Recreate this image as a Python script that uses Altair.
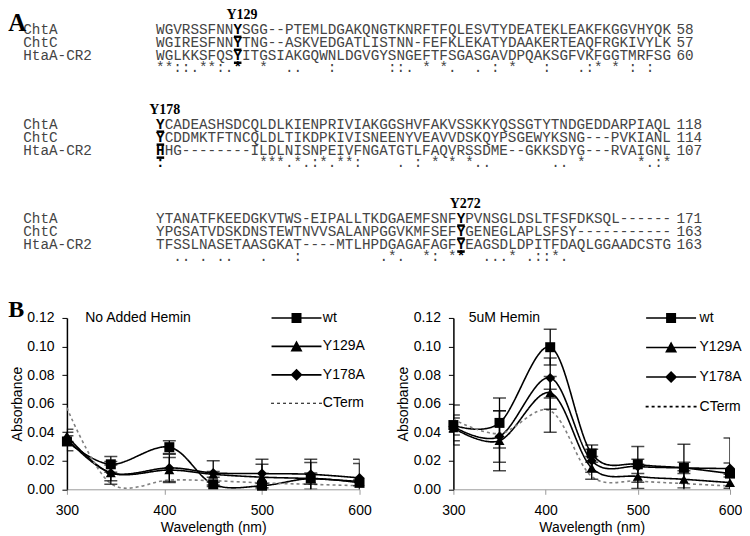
import altair as alt
import pandas as pd

# ===================== Panel A : sequence alignment =====================
seq_names = ["ChtA", "ChtC", "HtaA-CR2"]

block1_seqs = [
    "WGVRSSFNNYSGG--PTEMLDGAKQNGTKNRFTFQLESVTYDEATEKLEAKFKGGVHYQK",
    "WGIRESFNNYTNG--ASKVEDGATLISTNN-FEFKLEKATYDAAKERTEAQFRGKIVYLK",
    "WGLKKSFQSYITGSIAKGQWNLDGVGYSNGEFTFSGASGAVDPQAKSGFVKFGGTMRFSG",
]
block1_cons = "**::.**:.*" "  *  ..   " ":      ::." " * *.  . :" " *   :   ." ":* * : :  "
block1_ends = [58, 57, 60]

block2_seqs = [
    "YCADEASHSDCQLDLKIENPRIVIAKGGSHVFAKVSSKKYQSSGTYTNDGEDDARPIAQL",
    "YCDDMKTFTNCQLDLTIKDPKIVISNEENYVEAVVDSKQYPSGEWYKSNG---PVKIANL",
    "HHG--------ILDLNISNPEIVFNGATGTLFAQVRSSDME--GKKSDYG---RVAIGNL",
]
block2_cons = ":" + " " * 11 + "***.*.:*.**:" + " " * 4 + ". : * * *.." + " " * 7 + ".. *" + " " * 6 + "*.:*"
block2_ends = [118, 114, 107]

block3_seqs = [
    "YTANATFKEEDGKVTWS-EIPALLTKDGAEMFSNFYPVNSGLDSLTFSFDKSQL------",
    "YPGSATVDSKDNSTEWTNVVSALANPGGVKMFSEFYGENEGLAPLSFSY-----------",
    "TFSSLNASETAASGKAT----MTLHPDGAGAFAGFYEAGSDLDPITFDAQLGGAADCSTG",
]
block3_cons = "  .. . .. " "  .   :   " "      .*. " " *: **  .." ".* .::*.  " + " " * 10
block3_ends = [171, 163, 163]

site_labels = ["Y129", "Y178", "Y272"]
site_columns = [9, 0, 35]

# ===================== Panel B : absorbance spectra =====================
series_names = ["wt", "Y129A", "Y178A", "CTerm"]

wl_nohemin = [300, 345, 405, 450, 500, 550, 600]
nohemin_wt = [0.0335, 0.0175, 0.0295, 0.0035, 0.0025, 0.0075, 0.0045]
nohemin_y129a = [0.0375, 0.0115, 0.0135, 0.0105, 0.0085, 0.0075, 0.0055]
nohemin_y178a = [0.0355, 0.0115, 0.0150, 0.0115, 0.0110, 0.0105, 0.0080]
nohemin_cterm = [0.0570, 0.0040, 0.0065, 0.0060, 0.0045, 0.0035, 0.0025]
nohemin_wt_err = [0.0065, 0.0055, 0.0045, 0.0015, 0.0015, 0.0040, 0.0020]
nohemin_y129a_err = [0.0045, 0.0080, 0.0088, 0.0020, 0.0090, 0.0112, 0.0125]
nohemin_y178a_err = [0.0020, 0.0055, 0.0095, 0.0085, 0.0100, 0.0105, 0.0130]
nohemin_cterm_err = [0, 0, 0, 0, 0, 0, 0]

wl_hemin = [300, 350, 405, 450, 500, 550, 600]
hemin_wt = [0.0450, 0.0465, 0.0995, 0.0250, 0.0175, 0.0150, 0.0110]
hemin_y129a = [0.0430, 0.0340, 0.0675, 0.0150, 0.0090, 0.0070, 0.0047]
hemin_y178a = [0.0440, 0.0370, 0.0780, 0.0200, 0.0160, 0.0150, 0.0145]
hemin_cterm = [0.0490, 0.0390, 0.0550, 0.0090, 0.0058, 0.0040, 0.0023]
hemin_wt_err = [0.0140, 0.0175, 0.0125, 0.0060, 0.0125, 0.0165, 0.0250]
hemin_y129a_err = [0.0090, 0.0210, 0.0115, 0.0080, 0.0085, 0.0060, 0.0040]
hemin_y178a_err = [0.0060, 0.0180, 0.0140, 0.0080, 0.0050, 0.0040, 0.0040]
hemin_cterm_err = [0, 0, 0.0150, 0, 0, 0, 0]

# ===================== styling / layout =====================
MONO = "Liberation Mono"
SANS = "Liberation Sans"
SERIF = "Liberation Serif"
SEQ_COLOR = "#444444"

CH = 8.6              # px per alignment column
MONO_SIZE = CH / 0.6  # monospace advance = 0.6 em
SEQ_X0 = 89.3         # px (relative to panel origin) where column 0 starts
PANEL_A_W = 640
PANEL_A_H = 286
NAME_COL = (-43.7 - SEQ_X0) / CH
NUM_COL = (610.3 - SEQ_X0) / CH
block_top = [7, 102, 196]
line_off = [0, 15, 28, 41, 53]

xdomA = [-SEQ_X0 / CH, (PANEL_A_W - SEQ_X0) / CH]


def AX(f):
    return alt.X(f + ":Q", scale=alt.Scale(domain=xdomA, nice=False, zero=False), axis=None)


def AY(f):
    return alt.Y(f + ":Q", scale=alt.Scale(domain=[0, PANEL_A_H], nice=False, zero=False, reverse=True),
                 axis=None)


def runs(s):
    """split a string into runs of non-space characters: (start, text)"""
    out, i = [], 0
    while i < len(s):
        if s[i] == " ":
            i += 1
            continue
        j = i
        while j < len(s) and s[j] != " ":
            j += 1
        out.append((i, s[i:j]))
        i = j
    return out


blocks = [(block1_seqs, block1_cons, block1_ends),
          (block2_seqs, block2_cons, block2_ends),
          (block3_seqs, block3_cons, block3_ends)]

plain_parts, bold_parts, unders, labels, nums, names = [], [], [], [], [], []
for b, (seqs, cons, ends) in enumerate(blocks):
    top = block_top[b]
    sc = site_columns[b]
    labels.append({"t": site_labels[b], "col": sc + 1.0, "y": top})
    lines_here = [(s, top + line_off[r + 1]) for r, s in enumerate(seqs)]
    for r, (s, y) in enumerate(lines_here):
        names.append({"t": seq_names[r], "col": NAME_COL, "y": y})
        nums.append({"t": str(ends[r]), "col": NUM_COL, "y": y})
        if sc > 0:
            plain_parts.append({"t": s[:sc], "col": 0, "y": y})
        bold_parts.append({"t": s[sc], "col": sc, "y": y})
        plain_parts.append({"t": s[sc + 1:], "col": sc + 1, "y": y})
        unders.append({"x1": sc + 0.06, "x2": sc + 0.94, "y": y + 6.5})
    ycons = top + line_off[4]
    for start, txt in runs(cons[:sc]):
        plain_parts.append({"t": txt, "col": start, "y": ycons})
    if cons[sc] != " ":
        bold_parts.append({"t": cons[sc], "col": sc, "y": ycons})
    for start, txt in runs(cons[sc + 1:]):
        plain_parts.append({"t": txt, "col": sc + 1 + start, "y": ycons})

plain = alt.Chart(pd.DataFrame(plain_parts)).mark_text(
    font=MONO, fontSize=MONO_SIZE, color=SEQ_COLOR, align="left", baseline="middle").encode(
    AX("col"), AY("y"), text="t:N")
bold = alt.Chart(pd.DataFrame(bold_parts)).mark_text(
    font=MONO, fontSize=MONO_SIZE, fontWeight="bold", color="black", align="left", baseline="middle").encode(
    AX("col"), AY("y"), text="t:N")
underline = alt.Chart(pd.DataFrame(unders)).mark_rule(color="black", strokeWidth=2.5).encode(
    AX("x1"), x2="x2:Q", y=AY("y"))
name_txt = alt.Chart(pd.DataFrame(names)).mark_text(
    font=MONO, fontSize=MONO_SIZE, color=SEQ_COLOR, align="left", baseline="middle").encode(
    AX("col"), AY("y"), text="t:N")
num_txt = alt.Chart(pd.DataFrame(nums)).mark_text(
    font=MONO, fontSize=MONO_SIZE, color=SEQ_COLOR, align="left", baseline="middle").encode(
    AX("col"), AY("y"), text="t:N")
site_txt = alt.Chart(pd.DataFrame(labels)).mark_text(
    font=SERIF, fontSize=14, fontWeight="bold", color="black", align="center", baseline="middle").encode(
    AX("col"), AY("y"), text="t:N")
letter_a = alt.Chart(pd.DataFrame({"t": ["A"]})).mark_text(
    font=SERIF, fontSize=25, fontWeight="bold", color="black", align="left", baseline="top").encode(
    x=alt.value(-58.7), y=alt.value(3), text="t:N")

panel_a = alt.layer(plain, bold, underline, name_txt, num_txt, site_txt, letter_a).properties(
    width=PANEL_A_W, height=PANEL_A_H)

# ---------- spectra ----------
x_axis = alt.Axis(values=[300, 400, 500, 600], title="Wavelength (nm)", grid=False, labelFlush=False,
                  domainColor="#9a9a9a", domainWidth=1, tickColor="#9a9a9a", tickSize=5,
                  labelFont=SANS, labelFontSize=14, labelColor="black", labelPadding=9,
                  titleFont=SANS, titleFontSize=14, titleFontWeight="normal", titleColor="black",
                  titlePadding=3)
y_axis = alt.Axis(values=[0, 0.02, 0.04, 0.06, 0.08, 0.10, 0.12], format=".2f", title="Absorbance",
                  grid=False, domainColor="black", domainWidth=1.5, tickColor="black", tickSize=5,
                  labelFont=SANS, labelFontSize=14, labelColor="black", labelPadding=8,
                  titleFont=SANS, titleFontSize=14, titleFontWeight="normal", titleColor="black",
                  titlePadding=2.5)


def BX():
    return alt.X("wl:Q", scale=alt.Scale(domain=[300, 600], nice=False, zero=False), axis=x_axis)


def BY(f):
    return alt.Y(f + ":Q", scale=alt.Scale(domain=[0, 0.12], nice=False, zero=False), axis=y_axis)


U = 14.0  # px per unit of the custom legend symbol (sqrt(784)/2)


def rect(x0, x1, h):
    return "M%.3f,%.3fH%.3fV%.3fH%.3fZ" % (x0 / U, -h / U, x1 / U, h / U, x0 / U)


line_rect = rect(-25, 25, 0.8)
path_wt = line_rect + rect(-5, 5, 5)
path_tri = line_rect + "M0,%.3fL%.3f,%.3fH%.3fZ" % (-6.0 / U, 6.0 / U, 5.0 / U, -6.0 / U)
path_dia = line_rect + "M0,%.3fL%.3f,0L0,%.3fL%.3f,0Z" % (-6.0 / U, 6.0 / U, 6.0 / U, -6.0 / U)


def dash_path(h):
    return "".join(rect(-25.5 + k * 6, -25.5 + k * 6 + 3, h) for k in range(9))


def spectrum_panel(wls, vals, errs, title_text, title_x, cterm_color, cterm_dash, dash_h, width,
                   leg_x, leg_rowpad, leg_offset, with_b):
    recs = []
    for s in series_names:
        for w, v, e in zip(wls, vals[s], errs[s]):
            recs.append({"series": s, "wl": w, "ab": v, "err": e, "lo": v - e, "hi": v + e})
    df = pd.DataFrame(recs)
    base = alt.Chart(df)

    lines = base.mark_line(interpolate="cardinal", strokeWidth=1.6, clip=True).encode(
        BX(), BY("ab"),
        color=alt.Color("series:N", scale=alt.Scale(domain=series_names,
                                                    range=["black", "black", "black", cterm_color]),
                        legend=None),
        strokeDash=alt.StrokeDash("series:N", scale=alt.Scale(domain=series_names,
                                                              range=[[1, 0], [1, 0], [1, 0], cterm_dash]),
                                  legend=None))
    eb = base.transform_filter("datum.err > 0")
    rules = eb.mark_rule(color="black", strokeWidth=1.3, clip=True).encode(BX(), BY("lo"), y2="hi:Q")
    cap_lo = eb.mark_tick(color="black", orient="horizontal", size=13, thickness=1.5, clip=True).encode(
        BX(), BY("lo"))
    cap_hi = eb.mark_tick(color="black", orient="horizontal", size=13, thickness=1.5, clip=True).encode(
        BX(), BY("hi"))
    points = base.transform_filter("datum.series != 'CTerm'").mark_point(
        filled=True, color="black", opacity=1, size=100).encode(
        BX(), BY("ab"),
        shape=alt.Shape("series:N", scale=alt.Scale(domain=series_names[:3],
                                                    range=["square", "triangle-up", "diamond"]),
                        legend=None))
    leg = alt.Legend(title=None, orient="none", legendX=leg_x, legendY=-14, symbolSize=784,
                     symbolStrokeWidth=0, symbolOpacity=1,
                     labelFont=SANS, labelFontSize=14, labelColor="black", labelOffset=leg_offset,
                     rowPadding=leg_rowpad, padding=0, labelLimit=200)
    legend_layer = base.transform_calculate(Series="datum.series").mark_point(
        filled=True, color="black", opacity=0, size=1).encode(
        BX(), BY("ab"),
        shape=alt.Shape("Series:N",
                        scale=alt.Scale(domain=series_names,
                                        range=[path_wt, path_tri, path_dia, dash_path(dash_h)]),
                        legend=leg))
    title_layer = alt.Chart(pd.DataFrame({"t": [title_text]})).mark_text(
        font=SANS, fontSize=14, color="black", align="left", baseline="middle").encode(
        x=alt.value(title_x), y=alt.value(0), text="t:N")
    layers = [lines, rules, cap_lo, cap_hi, points, legend_layer, title_layer]
    if with_b:
        b_layer = alt.Chart(pd.DataFrame({"t": ["B"]})).mark_text(
            font=SERIF, fontSize=24, fontWeight="bold", color="black", align="left", baseline="middle").encode(
            x=alt.value(-58.7), y=alt.value(-8), text="t:N")
        layers.append(b_layer)
    return alt.layer(*layers).resolve_scale(shape="independent").properties(width=width, height=171.6)


left = spectrum_panel(
    wl_nohemin,
    {"wt": nohemin_wt, "Y129A": nohemin_y129a, "Y178A": nohemin_y178a, "CTerm": nohemin_cterm},
    {"wt": nohemin_wt_err, "Y129A": nohemin_y129a_err, "Y178A": nohemin_y178a_err, "CTerm": nohemin_cterm_err},
    "No Added Hemin", 18.3, "#808080", [3, 3], 0.55, 293, 215.9, 7.5, 12.4, True)

right = spectrum_panel(
    wl_hemin,
    {"wt": hemin_wt, "Y129A": hemin_y129a, "Y178A": hemin_y178a, "CTerm": hemin_cterm},
    {"wt": hemin_wt_err, "Y129A": hemin_y129a_err, "Y178A": hemin_y178a_err, "CTerm": hemin_cterm_err},
    "5uM Hemin", 15.3, "black", [4, 3], 0.8, 277, 204.0, 8.6, 14.5, False)

row_b = alt.hconcat(left, right, spacing=25)

chart = alt.vconcat(panel_a, row_b, spacing=4).properties(padding=0, background="white").configure_view(
    strokeWidth=0)

chart.save("out.html", embed_options={"renderer": "svg", "actions": False})
